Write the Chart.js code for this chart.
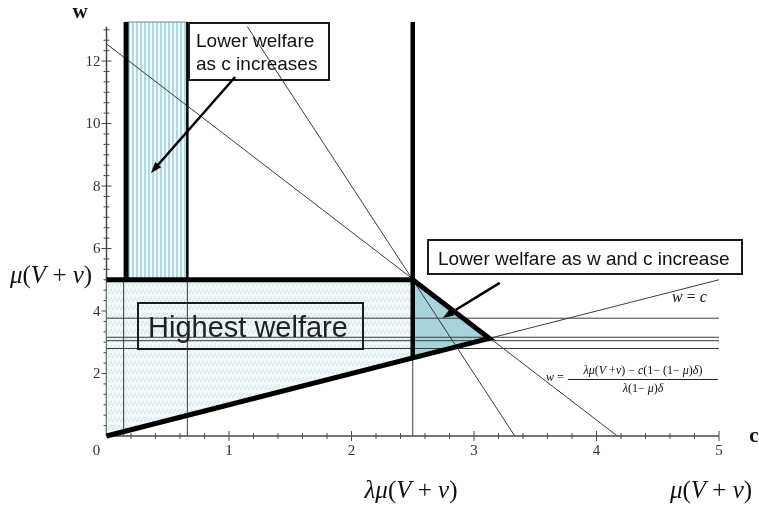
<!DOCTYPE html>
<html lang="en">
<head>
<meta charset="UTF-8">
<title>Welfare regions</title>
<script src="https://cdn.jsdelivr.net/npm/chart.js"></script>
<style>
  body { margin: 0; background: #fff; }
  #wrap { width: 759px; height: 506px; }
</style>
</head>
<body>
<div id="wrap"><canvas id="welfareChart"></canvas></div>
<script>
// axis tick labels
const cTickLabels = [0, 1, 2, 3, 4, 5];
const wTickLabels = [2, 4, 6, 8, 10, 12];

// shaded regions, corners as (c, w)
const highestC = [0, 0, 2.5, 2.5, 0];
const highestW = [0, 5, 5, 2.5, 0];
const columnC = [0.16, 0.66, 0.66, 0.16, 0.16];
const columnW = [5, 5, 13.25, 13.25, 5];
const triangleC = [2.5, 3.125, 2.5, 2.5];
const triangleW = [5, 3.125, 2.5, 5];

// thin lines
const steepC = [1.15, 3.333];
const steepW = [13.1, 0];
const slopeC = [0, 4.17];
const slopeW = [12.55, 0];
const diagC = [0, 5];
const diagW = [0, 5];
const flatLevels = [3.77, 3.16, 3.05, 2.8];
const uprightC = [0.14, 0.66, 2.5];
const uprightTop = [5, 5, 2.5];

// thick boundary lines
const boundC = [[0.16, 0.16], [0, 2.5, 3.125, 0], [2.5, 2.5], [0.66, 0.66]];
const boundW = [[5, 13.25], [5, 5, 3.125, 0], [2.5, 13.25], [5, 13.25]];
const boundWidth = [5, 5, 4.5, 2.5];

// arrows (from -> to)
const arrowFromC = [1.05, 3.21];
const arrowFromW = [11.49, 4.9];
const arrowToC = [0.363, 2.745];
const arrowToW = [8.42, 3.78];

function pts(cs, ws) {
    return cs.map((c, i) => ({ x: c, y: ws[i] }));
}

function makePattern(w, h, paint) {
    const cv = document.createElement('canvas');
    cv.width = w;
    cv.height = h;
    paint(cv.getContext('2d'));
    return cv.getContext('2d').createPattern(cv, 'repeat');
}

const diagHatch = makePattern(4, 8, g => {
    g.fillStyle = '#f0f8fa';
    g.fillRect(0, 0, 4, 8);
    g.strokeStyle = '#c6dce2';
    g.lineWidth = 1;
    g.beginPath();
    g.moveTo(0, 6);
    g.lineTo(4, 1);
    g.stroke();
});

const stripeHatch = makePattern(4, 1, g => {
    g.fillStyle = '#eef8f9';
    g.fillRect(0, 0, 4, 1);
    g.fillStyle = '#b0dae1';
    g.fillRect(0, 0, 2, 1);
});

const base = { pointRadius: 0, pointHoverRadius: 0, tension: 0, fill: false, clip: false };
const datasets = [];

datasets.push(Object.assign({}, base, {
    data: pts(highestC, highestW), fill: 'shape', backgroundColor: diagHatch,
    borderColor: 'transparent', borderWidth: 0, order: 30
}));
datasets.push(Object.assign({}, base, {
    data: pts(columnC, columnW), fill: 'shape', backgroundColor: stripeHatch,
    borderColor: '#888', borderWidth: 1, order: 29
}));
datasets.push(Object.assign({}, base, {
    data: pts(triangleC, triangleW), fill: 'shape', backgroundColor: '#a7d4da',
    borderColor: 'transparent', borderWidth: 0, order: 28
}));

const thin = { borderColor: '#3c3c3c', borderWidth: 1, order: 10 };
datasets.push(Object.assign({}, base, thin, { data: pts(steepC, steepW) }));
datasets.push(Object.assign({}, base, thin, { data: pts(slopeC, slopeW) }));
datasets.push(Object.assign({}, base, thin, { data: pts(diagC, diagW) }));
flatLevels.forEach(w => {
    datasets.push(Object.assign({}, base, thin, { data: pts([0, 5], [w, w]) }));
});
uprightC.forEach((c, i) => {
    datasets.push(Object.assign({}, base, thin, { data: pts([c, c], [0, uprightTop[i]]) }));
});

boundC.forEach((cs, i) => {
    datasets.push(Object.assign({}, base, {
        data: pts(cs, boundW[i]), borderColor: '#000', borderWidth: boundWidth[i],
        borderJoinStyle: 'miter', borderCapStyle: 'butt', order: 1
    }));
});

function mathText(ctx, parts, x, y, size, align) {
    let total = 0;
    parts.forEach(p => {
        ctx.font = (p[1] ? 'italic ' : '') + size + 'px "Liberation Serif"';
        total += ctx.measureText(p[0]).width;
    });
    let cx = align === 'center' ? x - total / 2 : x;
    ctx.textAlign = 'left';
    ctx.textBaseline = 'alphabetic';
    parts.forEach(p => {
        ctx.font = (p[1] ? 'italic ' : '') + size + 'px "Liberation Serif"';
        ctx.fillText(p[0], cx, y);
        cx += ctx.measureText(p[0]).width;
    });
    return total;
}

function arrow(ctx, x1, y1, x2, y2) {
    const a = Math.atan2(y2 - y1, x2 - x1);
    const len = 11, half = 4;
    ctx.beginPath();
    ctx.moveTo(x1, y1);
    ctx.lineTo(x2 - Math.cos(a) * len * 0.8, y2 - Math.sin(a) * len * 0.8);
    ctx.stroke();
    ctx.beginPath();
    ctx.moveTo(x2, y2);
    ctx.lineTo(x2 - Math.cos(a) * len + Math.sin(a) * half, y2 - Math.sin(a) * len - Math.cos(a) * half);
    ctx.lineTo(x2 - Math.cos(a) * len - Math.sin(a) * half, y2 - Math.sin(a) * len + Math.cos(a) * half);
    ctx.closePath();
    ctx.fill();
}

const axesPlugin = {
    id: 'axesPlugin',
    beforeDatasetsDraw(chart) {
        const { ctx, scales: { x, y } } = chart;
        const x0 = x.getPixelForValue(0), y0 = y.getPixelForValue(0);
        ctx.save();
        ctx.strokeStyle = '#4a4a4a';
        ctx.lineWidth = 1.5;
        ctx.beginPath();
        ctx.moveTo(x0, y0);
        ctx.lineTo(x.getPixelForValue(5), y0);
        ctx.moveTo(x0, y0);
        ctx.lineTo(x0, y.getPixelForValue(13.1));
        ctx.stroke();
        ctx.lineWidth = 1;
        ctx.beginPath();
        for (let i = 1; i <= 25; i++) {
            const px = x.getPixelForValue(i * 0.2);
            const len = i % 5 === 0 ? 5 : 3;
            ctx.moveTo(px, y0 - len);
            ctx.lineTo(px, y0 + len);
        }
        for (let i = 1; i <= 39; i++) {
            const py = y.getPixelForValue(i / 3);
            const len = i % 6 === 0 ? 5 : 3;
            ctx.moveTo(x0 - len, py);
            ctx.lineTo(x0 + len, py);
        }
        ctx.stroke();
        ctx.restore();
    },
    afterDatasetsDraw(chart) {
        const { ctx, scales: { x, y } } = chart;
        const x0 = x.getPixelForValue(0), y0 = y.getPixelForValue(0);
        ctx.save();
        // tick labels
        ctx.fillStyle = '#333';
        ctx.font = '15px "Liberation Serif"';
        ctx.textBaseline = 'middle';
        ctx.textAlign = 'center';
        cTickLabels.forEach(v => {
            const px = v === 0 ? x0 - 10 : x.getPixelForValue(v);
            ctx.fillText(String(v), px, y0 + 15);
        });
        ctx.textAlign = 'right';
        wTickLabels.forEach(v => {
            ctx.fillText(String(v), x0 - 6, y.getPixelForValue(v) + 1);
        });

        // axis names
        ctx.fillStyle = '#111';
        ctx.font = 'bold 21px "Liberation Serif"';
        ctx.textAlign = 'center';
        ctx.fillText('w', 80, 13);
        ctx.fillText('c', 754, 437);

        // math labels
        const muParts = [['\u03bc', true], ['(', false], ['V', true], [' + ', false], ['v', true], [')', false]];
        mathText(ctx, muParts, 10, 283, 25, 'left');
        mathText(ctx, [['\u03bb', true]].concat(muParts), 411, 498, 25, 'center');
        mathText(ctx, muParts, 711, 498, 25, 'center');

        mathText(ctx, [['w', true], [' = ', false], ['c', true]], 672, 302, 16, 'left');

        mathText(ctx, [['w', true], [' =', false]], 546, 381, 12, 'left');
        mathText(ctx, [['\u03bb\u03bc', true], ['(', false], ['V', true], [' +', false], ['v', true], [') \u2212 ', false],
            ['c', true], ['(1\u2212 (1\u2212 ', false], ['\u03bc', true], [')', false], ['\u03b4', true], [')', false]],
            643, 374, 12, 'center');
        ctx.strokeStyle = '#222';
        ctx.lineWidth = 1;
        ctx.beginPath();
        ctx.moveTo(568, 379.5);
        ctx.lineTo(718, 379.5);
        ctx.stroke();
        mathText(ctx, [['\u03bb', true], ['(1\u2212 ', false], ['\u03bc', true], [')', false], ['\u03b4', true]],
            643, 392, 12, 'center');

        // text boxes
        ctx.strokeStyle = '#1a1a1a';
        ctx.lineWidth = 2;
        ctx.strokeRect(189, 23, 140, 57);
        ctx.strokeRect(428, 240, 314, 34);
        ctx.strokeRect(138, 303, 225, 46);
        ctx.fillStyle = '#111';
        ctx.textAlign = 'left';
        ctx.textBaseline = 'alphabetic';
        ctx.font = '19px "Liberation Sans"';
        ctx.fillText('Lower welfare', 196, 47);
        ctx.fillText('as c increases', 196, 70);
        ctx.fillText('Lower welfare as w and c increase', 438, 265);
        ctx.fillStyle = '#222';
        ctx.font = '29px "Liberation Sans"';
        ctx.fillText('Highest welfare', 148, 337);

        // arrows
        ctx.strokeStyle = '#000';
        ctx.fillStyle = '#000';
        ctx.lineWidth = 2.5;
        arrowFromC.forEach((c, i) => {
            arrow(ctx, x.getPixelForValue(c), y.getPixelForValue(arrowFromW[i]),
                x.getPixelForValue(arrowToC[i]), y.getPixelForValue(arrowToW[i]));
        });
        ctx.restore();
    }
};

new Chart(document.getElementById('welfareChart'), {
    type: 'line',
    data: { datasets: datasets },
    options: {
        responsive: true,
        maintainAspectRatio: false,
        animation: false,
        events: [],
        layout: { padding: { left: 106.5, right: 40, top: 22, bottom: 70 } },
        plugins: { legend: { display: false }, tooltip: { enabled: false } },
        scales: {
            x: { type: 'linear', min: 0, max: 5, display: false },
            y: { type: 'linear', min: 0, max: 13.25, display: false }
        }
    },
    plugins: [axesPlugin]
});
</script>
</body>
</html>
